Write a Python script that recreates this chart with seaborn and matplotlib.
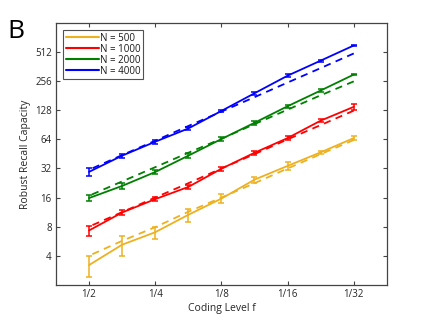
import numpy as np
import pandas as pd
import matplotlib
matplotlib.use("Agg")
import matplotlib.pyplot as plt
import seaborn as sns
from matplotlib.ticker import FixedLocator, NullLocator

sns.set_style("white")
plt.rcParams['font.family'] = ['Open Sans', 'DejaVu Sans']

# coding level f, half-octave steps from 1/2 to 1/32
coding_level = [1/2, 0.3536, 1/4, 0.1768, 1/8, 0.0884, 1/16, 0.0442, 1/32]

# simulated capacity (solid) with error bars
cap_500 = [3.2, 5.2, 7.0, 10.6, 15.6, 24.5, 34.0, 47.0, 66.0]
err_500 = [0.8, 1.2, 1.0, 1.7, 1.7, 1.8, 3.4, 2.0, 3.0]
cap_1000 = [7.3, 11.2, 15.4, 20.6, 31.8, 46.5, 66.0, 100.0, 139.0]
err_1000 = [0.9, 0.6, 0.8, 1.2, 1.5, 2.0, 3.0, 4.0, 11.0]
cap_2000 = [15.8, 21.1, 29.4, 43.4, 64.5, 95.0, 141.0, 205.0, 300.0]
err_2000 = [1.2, 1.5, 1.5, 2.5, 3.0, 4.0, 5.0, 8.0, 6.0]
cap_4000 = [29.5, 43.4, 60.5, 83.0, 126.0, 192.0, 292.0, 418.0, 600.0]
err_4000 = [2.5, 2.0, 3.0, 3.0, 4.0, 6.0, 10.0, 10.0, 12.0]

# theory (dashed)
theory_500 = [4.0, 5.7, 7.9, 11.4, 16.0, 22.5, 32.0, 45.0, 63.0]
theory_1000 = [8.0, 11.3, 16.0, 22.5, 32.0, 45.0, 64.0, 90.0, 127.0]
theory_2000 = [16.7, 23.5, 33.0, 46.5, 65.0, 92.0, 130.0, 183.0, 255.0]
theory_4000 = [31.0, 44.0, 62.0, 88.0, 124.0, 175.0, 248.0, 350.0, 496.0]

labels = ["N = 500", "N = 1000", "N = 2000", "N = 4000"]
colors = ["#EDB120", "#FF0000", "#008000", "#0000FF"]
caps = [cap_500, cap_1000, cap_2000, cap_4000]
errs = [err_500, err_1000, err_2000, err_4000]
theories = [theory_500, theory_1000, theory_2000, theory_4000]

rows = []
for lab, c, e, t in zip(labels, caps, errs, theories):
    for f, cv, ev, tv in zip(coding_level, c, e, t):
        rows.append({"f": f, "cap": cv, "err": ev, "theory": tv, "N": lab})
df = pd.DataFrame(rows)
palette = dict(zip(labels, colors))

fig = plt.figure(figsize=(4.27, 3.2), dpi=100)
ax = fig.add_axes([0.131, 0.110, 0.775, 0.818])

sns.lineplot(data=df, x="f", y="theory", hue="N", palette=palette, ax=ax,
             linewidth=1.3, dashes=False, legend=False, estimator=None)
for line in ax.get_lines():
    line.set_dashes([4, 3])

sns.lineplot(data=df, x="f", y="cap", hue="N", palette=palette, ax=ax,
             linewidth=1.3, estimator=None)

for lab in labels:
    sub = df[df["N"] == lab]
    ax.errorbar(sub["f"], sub["cap"], yerr=sub["err"], fmt="none",
                ecolor=palette[lab], elinewidth=1.1, capsize=2.5, capthick=1.1)

ax.set_xscale("log", base=2)
ax.set_yscale("log", base=2)
ax.set_xlim(2 ** -0.5, 2 ** -5.5)
ax.set_ylim(2, 1024)

xt = [1/2, 1/4, 1/8, 1/16, 1/32]
ax.xaxis.set_major_locator(FixedLocator(xt))
ax.set_xticklabels(["1/2", "1/4", "1/8", "1/16", "1/32"])
yt = [4, 8, 16, 32, 64, 128, 256, 512]
ax.yaxis.set_major_locator(FixedLocator(yt))
ax.set_yticklabels([str(v) for v in yt])
ax.xaxis.set_minor_locator(NullLocator())
ax.yaxis.set_minor_locator(NullLocator())

ax.tick_params(direction="in", length=3, width=0.8, colors="#444444",
               labelcolor="#262626", labelsize=7, top=True, right=True,
               bottom=True, left=True, pad=3)
for sp in ax.spines.values():
    sp.set_color("#444444")
    sp.set_linewidth(0.9)

ax.set_xlabel("Coding Level f", fontsize=7.5, color="#262626", labelpad=2)
ax.set_ylabel("Robust Recall Capacity", fontsize=7.5, color="#262626", labelpad=3)

leg = ax.legend(loc="upper left", fontsize=7, frameon=True, fancybox=False,
                edgecolor="#262626", handlelength=3.4, handletextpad=0.1,
                labelspacing=0.0, borderpad=0.25, borderaxespad=0.75)
leg.get_frame().set_linewidth(0.8)
for h in leg.get_lines():
    h.set_linewidth(1.5)
for t in leg.get_texts():
    t.set_color("#1a1a1a")

fig.text(0.018, 0.9, "B", fontsize=19, color="black", va="center")

fig.savefig("out.png", dpi=100)
